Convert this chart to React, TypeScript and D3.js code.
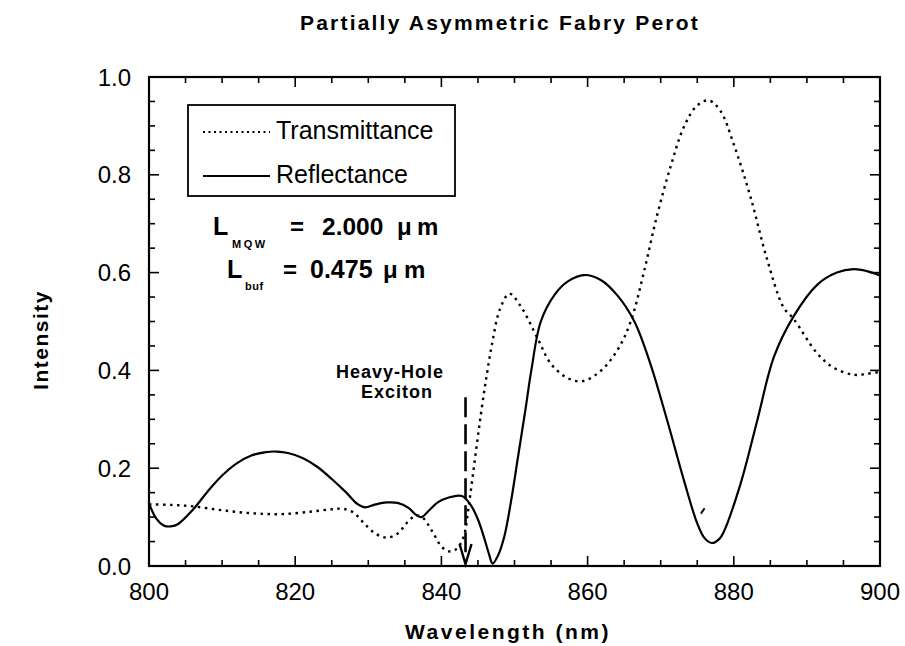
import React from "react";
import * as d3 from "d3";

const W = 905;
const H = 646;
const FRAME = { left: 149, right: 880, top: 77, bottom: 566 };

const X_DOMAIN = [800, 900];
const Y_DOMAIN = [0, 1];
const X_TICKS = [800, 820, 840, 860, 880, 900];
const Y_TICKS = [0, 0.2, 0.4, 0.6, 0.8, 1.0];
const Y_TICK_LABELS = ["0.0", "0.2", "0.4", "0.6", "0.8", "1.0"];

const REFL_WL = [800, 801, 802, 803, 804, 806, 808, 810, 812, 814, 816, 817.5, 819, 821, 823, 825, 827, 828.5, 829.5, 831, 832.5, 834, 835.5, 836.5, 837.3, 838.2, 839.5, 841, 842.8, 844, 845, 845.8, 846.5, 847, 847.7, 848.6, 849.5, 850.5, 851.5, 852.3, 853.6, 855.5, 857.3, 859.5, 861.8, 864.1, 866.4, 868.6, 870.9, 873.2, 875, 876, 877, 878, 878.6, 880.9, 883.2, 885.5, 888.2, 891.4, 894.1, 896.4, 898.2, 900];
const REFLECTANCE = [0.128, 0.097, 0.083, 0.081, 0.086, 0.115, 0.152, 0.185, 0.21, 0.226, 0.233, 0.234, 0.231, 0.221, 0.203, 0.178, 0.15, 0.127, 0.12, 0.126, 0.13, 0.129, 0.119, 0.105, 0.1, 0.112, 0.13, 0.14, 0.143, 0.125, 0.095, 0.06, 0.025, 0.005, 0.02, 0.06, 0.13, 0.225, 0.32, 0.4, 0.5, 0.555, 0.582, 0.595, 0.585, 0.553, 0.5, 0.413, 0.297, 0.174, 0.087, 0.057, 0.047, 0.055, 0.069, 0.167, 0.297, 0.428, 0.511, 0.575, 0.6, 0.607, 0.603, 0.594];

const TRANS_WL = [800, 803, 806, 810, 814, 818, 822, 825, 826.5, 828, 829.5, 831, 832.5, 834, 835.5, 836.5, 837.5, 838.7, 840, 841, 842, 843, 843.8, 844.6, 845.4, 846.2, 847, 848, 849.3, 850.9, 853.2, 855, 857.3, 859.3, 861.8, 864.1, 865.9, 867.7, 869.5, 871.4, 873.2, 875, 876.6, 878.2, 880, 882.3, 884.5, 886.8, 888.2, 891.4, 893.6, 896.4, 898.2, 900];
const TRANSMITTANCE = [0.126, 0.125, 0.122, 0.114, 0.108, 0.106, 0.111, 0.116, 0.117, 0.109, 0.086, 0.066, 0.058, 0.066, 0.092, 0.103, 0.098, 0.072, 0.04, 0.03, 0.034, 0.058, 0.13, 0.22, 0.31, 0.39, 0.46, 0.525, 0.557, 0.53, 0.464, 0.413, 0.384, 0.378, 0.399, 0.442, 0.5, 0.601, 0.717, 0.819, 0.899, 0.942, 0.952, 0.93, 0.862, 0.754, 0.63, 0.529, 0.505, 0.435, 0.406, 0.391, 0.393, 0.397];

const EXCITON_WL = 843.3;
const EXCITON_TOP = 0.345;
const STRAY_MARK_WL = [875.5, 876.0];
const STRAY_MARK_VAL = [0.107, 0.118];

const FONT = "'Liberation Sans', Arial, Helvetica, sans-serif";

export default function App() {
  const x = d3.scaleLinear().domain(X_DOMAIN).range([FRAME.left, FRAME.right]);
  const y = d3.scaleLinear().domain(Y_DOMAIN).range([FRAME.bottom, FRAME.top]);
  const line = d3
    .line<[number, number]>()
    .x((d) => x(d[0]))
    .y((d) => y(d[1]))
    .curve(d3.curveCatmullRom.alpha(0.5));

  const refl: [number, number][] = REFL_WL.map((w, i) => [w, REFLECTANCE[i]]);
  const trans: [number, number][] = TRANS_WL.map((w, i) => [w, TRANSMITTANCE[i]]);

  const minorX = d3.range(800, 900.001, 5);
  const minorY = d3.range(0, 1.0001, 0.05);
  const MAJ = 10;
  const MIN = 6;

  const ax = x(EXCITON_WL);
  const arrowTop = y(EXCITON_TOP);
  const arrowBottom = y(0);

  return (
    <svg
      width={W}
      height={H}
      style={{ position: "absolute", left: 0, top: 0, background: "#fff" }}
      fontFamily={FONT}
    >
      <rect x={0} y={0} width={W} height={H} fill="#fff" />
      <defs>
        <clipPath id="plotclip">
          <rect x={FRAME.left} y={FRAME.top} width={FRAME.right - FRAME.left} height={FRAME.bottom - FRAME.top} />
        </clipPath>
      </defs>

      {/* title */}
      <text x={300} y={30} fontSize={21} fontWeight="bold" letterSpacing={2.2} fill="#000">
        Partially Asymmetric Fabry Perot
      </text>

      {/* ticks */}
      <g stroke="#000" strokeWidth={1.6}>
        {minorX.map((v) => {
          const len = Math.abs(v % 20) < 1e-6 ? MAJ : MIN;
          return (
            <g key={"x" + v}>
              <line x1={x(v)} x2={x(v)} y1={FRAME.bottom} y2={FRAME.bottom - len} />
              <line x1={x(v)} x2={x(v)} y1={FRAME.top} y2={FRAME.top + len} />
            </g>
          );
        })}
        {minorY.map((v, i) => {
          const len = i % 4 === 0 ? MAJ : MIN;
          return (
            <g key={"y" + i}>
              <line x1={FRAME.left} x2={FRAME.left + len} y1={y(v)} y2={y(v)} />
              <line x1={FRAME.right} x2={FRAME.right - len} y1={y(v)} y2={y(v)} />
            </g>
          );
        })}
      </g>

      {/* frame */}
      <rect
        x={FRAME.left}
        y={FRAME.top}
        width={FRAME.right - FRAME.left}
        height={FRAME.bottom - FRAME.top}
        fill="none"
        stroke="#000"
        strokeWidth={2.2}
      />

      {/* tick labels */}
      {X_TICKS.map((v) => (
        <text key={"xl" + v} x={x(v)} y={600} fontSize={24} textAnchor="middle" fill="#000">
          {v}
        </text>
      ))}
      {Y_TICKS.map((v, i) => (
        <text key={"yl" + v} x={131} y={y(v) + 8.5} fontSize={24} textAnchor="end" fill="#000">
          {Y_TICK_LABELS[i]}
        </text>
      ))}

      {/* axis titles */}
      <text x={508} y={639} fontSize={21} fontWeight="bold" letterSpacing={2.5} textAnchor="middle" fill="#000">
        Wavelength  (nm)
      </text>
      <text
        transform={`translate(48, 340) rotate(-90)`}
        fontSize={21}
        fontWeight="bold"
        letterSpacing={1.5}
        textAnchor="middle"
        fill="#000"
      >
        Intensity
      </text>

      {/* curves */}
      <g clipPath="url(#plotclip)">
        <path d={line(trans) || ""} fill="none" stroke="#000" strokeWidth={2.4} strokeDasharray="2.5 4.5" />
        <path d={line(refl) || ""} fill="none" stroke="#000" strokeWidth={2.2} strokeLinejoin="round" />
        <path
          d={line(STRAY_MARK_WL.map((w, i) => [w, STRAY_MARK_VAL[i]] as [number, number])) || ""}
          fill="none"
          stroke="#000"
          strokeWidth={2}
        />
      </g>

      {/* exciton arrow */}
      <line x1={ax} x2={ax} y1={arrowTop} y2={arrowBottom - 3} stroke="#000" strokeWidth={2.6} strokeDasharray="20 7" />
      <path
        d={`M${ax - 6},${arrowBottom - 22} L${ax},${arrowBottom - 2} L${ax + 6},${arrowBottom - 22}`}
        fill="none"
        stroke="#000"
        strokeWidth={2.4}
      />
      <text x={390} y={378} fontSize={18} fontWeight="bold" letterSpacing={1} textAnchor="middle" fill="#000">
        Heavy-Hole
      </text>
      <text x={397} y={398} fontSize={18} fontWeight="bold" letterSpacing={1} textAnchor="middle" fill="#000">
        Exciton
      </text>

      {/* legend */}
      <rect x={188} y={105} width={267} height={91} fill="#fff" stroke="#000" strokeWidth={1.8} />
      <line x1={203} x2={270} y1={132} y2={132} stroke="#000" strokeWidth={2} strokeDasharray="2 3.5" />
      <text x={276} y={139} fontSize={25} fill="#000">
        Transmittance
      </text>
      <line x1={203} x2={270} y1={176} y2={176} stroke="#000" strokeWidth={2} />
      <text x={276} y={183} fontSize={25} fill="#000">
        Reflectance
      </text>

      {/* parameters */}
      <g fontWeight="bold" fill="#000">
        <text x={213} y={235} fontSize={25}>L</text>
        <text x={232} y={248} fontSize={11} letterSpacing={2.5}>MQW</text>
        <text x={290} y={235} fontSize={24}>=</text>
        <text x={322} y={235} fontSize={24.5}>2.000</text>
        <text x={397} y={235} fontSize={24}>{"\u03BC"}</text>
        <text x={417} y={235} fontSize={24}>m</text>

        <text x={227} y={278} fontSize={25}>L</text>
        <text x={245} y={290} fontSize={11} letterSpacing={0.5}>buf</text>
        <text x={283} y={278} fontSize={24}>=</text>
        <text x={310} y={278} fontSize={25}>0.475</text>
        <text x={383} y={278} fontSize={24}>{"\u03BC"}</text>
        <text x={404} y={278} fontSize={24}>m</text>
      </g>
    </svg>
  );
}
